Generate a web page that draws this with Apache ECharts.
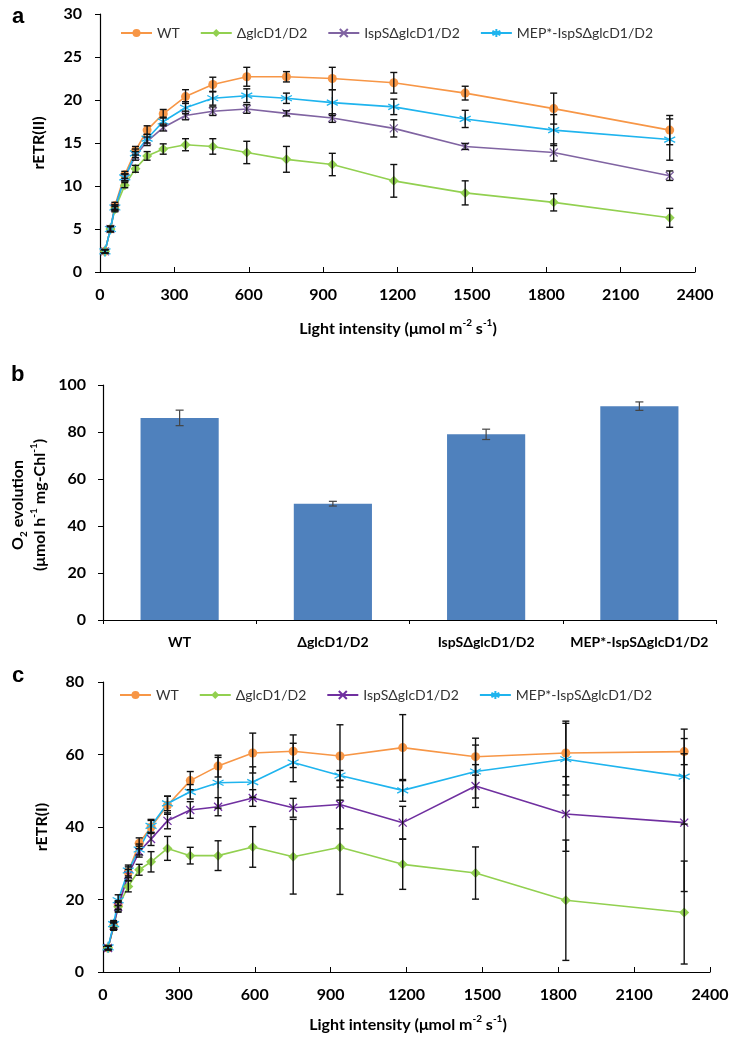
<!DOCTYPE html>
<html>
<head>
<meta charset="utf-8">
<script src="https://cdn.jsdelivr.net/npm/echarts@6/dist/echarts.min.js"></script>
<style>
html,body{margin:0;padding:0;background:#fff;}
#chart{width:734px;height:1043px;}
</style>
</head>
<body>
<div id="chart"></div>
<script>
// ---------- DATA ----------
const lightX = [20, 42, 60, 100, 143, 190, 255, 345, 455, 592, 752, 937, 1185, 1473, 1830, 2298];
const seriesNames = ['WT', 'ΔglcD1/D2', 'IspSΔglcD1/D2', 'MEP*-IspSΔglcD1/D2'];

// panel a: rETR(II)
const aWT     = [2.4, 5.0, 7.7, 11.3, 14.1, 16.5, 18.4, 20.4, 21.8, 22.7, 22.7, 22.5, 22.0, 20.8, 19.0, 16.5];
const aWTErr  = [0.2, 0.3, 0.4, 0.4, 0.5, 0.5, 0.5, 0.8, 0.85, 1.1, 0.6, 1.3, 1.2, 0.8, 1.8, 1.7];
const aDel    = [2.4, 5.0, 7.3, 10.1, 12.0, 13.5, 14.3, 14.8, 14.6, 13.9, 13.1, 12.5, 10.6, 9.2, 8.1, 6.3];
const aDelErr = [0.2, 0.3, 0.3, 0.3, 0.4, 0.5, 0.6, 0.7, 0.9, 1.3, 1.5, 1.3, 1.9, 1.4, 1.0, 1.1];
const aIsp    = [2.4, 5.0, 7.5, 11.0, 13.5, 15.2, 16.8, 18.2, 18.7, 18.95, 18.45, 17.9, 16.7, 14.6, 13.9, 11.2];
const aIspErr = [0.2, 0.3, 0.3, 0.4, 0.5, 0.5, 0.4, 0.5, 0.5, 0.5, 0.3, 0.5, 1.0, 0.35, 1.0, 0.55];
const aMep    = [2.4, 5.0, 7.5, 11.0, 13.8, 15.5, 17.5, 19.1, 20.2, 20.5, 20.2, 19.7, 19.2, 17.8, 16.5, 15.4];
const aMepErr = [0.2, 0.3, 0.3, 0.4, 0.5, 0.5, 0.5, 0.7, 0.8, 0.8, 0.6, 1.5, 0.9, 1.0, 1.8, 2.4];

// panel b: O2 evolution
const bCats = ['WT', 'ΔglcD1/D2', 'IspSΔglcD1/D2', 'MEP*-IspSΔglcD1/D2'];
const bVals = [86, 49.5, 79, 91];
const bErr  = [3.3, 1.0, 2.2, 1.8];

// panel c: rETR(I)
const cWT     = [6.6, 12.8, 18.5, 27.5, 35.5, 40.0, 46.0, 52.8, 56.8, 60.4, 60.9, 59.6, 61.9, 59.4, 60.4, 60.8];
const cWTErr  = [0.5, 1, 1.2, 1.5, 1.5, 1.8, 2.5, 2.5, 3.0, 5.5, 4.5, 8.6, 9.1, 5.1, 8.8, 3.6];
const cDel    = [6.6, 12.5, 18.0, 23.6, 28.2, 30.4, 34.1, 32.1, 32.1, 34.5, 31.8, 34.4, 29.7, 27.3, 19.8, 16.4];
const cDelErr = [0.5, 1, 1.2, 1.5, 1.5, 2.8, 3.3, 2.3, 4.1, 5.6, 10.3, 13.0, 6.9, 7.2, 16.6, 14.2];
const cIsp    = [6.6, 12.8, 18.0, 26.8, 33.2, 36.7, 41.7, 44.7, 45.6, 48.0, 45.3, 46.2, 41.2, 51.3, 43.6, 41.2];
const cIspErr = [0.5, 1, 1.5, 1.5, 1.5, 1.8, 2.2, 2.3, 2.5, 2.3, 2.6, 6.7, 4.5, 5.9, 10.3, 19.0];
const cMep    = [6.8, 13.2, 19.8, 28.0, 33.8, 40.3, 46.5, 49.7, 52.2, 52.4, 57.8, 54.2, 50.1, 55.3, 58.7, 53.9];
const cMepErr = [0.5, 1, 1.5, 1.5, 1.5, 1.8, 2.0, 2.0, 7.0, 4.2, 5.3, 1.4, 3.0, 7.3, 9.9, 13.1];

const aTicks = [0, 5, 10, 15, 20, 25, 30];
const bTicks = [0, 20, 40, 60, 80, 100];
const cTicks = [0, 20, 40, 60, 80];
const xTicks = [0, 300, 600, 900, 1200, 1500, 1800, 2100, 2400];

// ---------- STYLE ----------
const FONT = 'Lato';
const colors = {
  a: ['#F79646', '#92D050', '#8064A2', '#1FB4EE'],
  c: ['#F79646', '#92D050', '#7030A0', '#1FB4EE']
};
const SYM_X = 'path://M0,0L10,10M10,0L0,10';
const SYM_AST = 'path://M5,0L5,10M0.7,2.5L9.3,7.5M9.3,2.5L0.7,7.5';
const symbols = ['circle', 'diamond', SYM_X, SYM_AST];
const symSizes = [9, 10, 8, 11];

function pairs(xs, ys) { return xs.map((x, i) => [x, ys[i]]); }
function triples(xs, ys, es) { return xs.map((x, i) => [x, ys[i], es[i]]); }

function errRender(color, lw, cap) {
  return function (params, api) {
    const x = api.value(0), y = api.value(1), e = api.value(2);
    const t = api.coord([x, y + e]);
    const b = api.coord([x, y - e]);
    const st = { stroke: color, lineWidth: lw };
    return {
      type: 'group',
      children: [
        { type: 'line', shape: { x1: t[0], y1: t[1], x2: b[0], y2: b[1] }, style: st },
        { type: 'line', shape: { x1: t[0] - cap, y1: t[1], x2: t[0] + cap, y2: t[1] }, style: st },
        { type: 'line', shape: { x1: b[0] - cap, y1: b[1], x2: b[0] + cap, y2: b[1] }, style: st }
      ]
    };
  };
}

const axisLineStyle = { show: true, lineStyle: { color: '#000', width: 1.2 } };
const tickLabel = { color: '#000', fontFamily: FONT, fontWeight: 'bold', fontSize: 16, formatter: v => String(v) };

function lineSeries(panel, idx, ys, gridIdx, suffix) {
  const col = colors[panel][idx];
  const isPath = idx >= 2;
  return {
    name: seriesNames[idx] + suffix,
    type: 'line',
    xAxisIndex: gridIdx, yAxisIndex: gridIdx,
    data: pairs(lightX, ys),
    symbol: symbols[idx],
    symbolSize: symSizes[idx],
    showSymbol: true,
    lineStyle: { color: col, width: 1.6 },
    itemStyle: isPath ? { color: col, borderColor: col, borderWidth: 1.3 } : { color: col, borderWidth: 0 },
    z: 3,
    animation: false
  };
}
function errSeries(ys, es, gridIdx, color, lw, cap) {
  return {
    type: 'custom',
    xAxisIndex: gridIdx, yAxisIndex: gridIdx,
    data: triples(lightX, ys, es),
    encode: { x: 0, y: 1 },
    renderItem: errRender(color, lw, cap),
    z: 4, silent: true, animation: false
  };
}

const legendBase = {
  itemWidth: 31, itemHeight: 10, itemGap: 20,
  textStyle: { color: '#333', fontFamily: FONT, fontSize: 14 },
  selectedMode: false,
  formatter: n => n.trim()
};

const chart = echarts.init(document.getElementById('chart'), null, { renderer: 'canvas' });

const supStyle = { fontFamily: FONT, fontWeight: 'bold', fontSize: 10, verticalAlign: 'top', lineHeight: 22, fill: '#000' };
const baseStyle = { fontFamily: FONT, fontWeight: 'bold', fontSize: 16, lineHeight: 22, fill: '#000' };

const option = {
  backgroundColor: '#fff',
  animation: false,
  grid: [
    { left: 100, top: 14, width: 595, height: 258 },
    { left: 103, top: 385, width: 613, height: 235 },
    { left: 103, top: 682, width: 607, height: 290 }
  ],
  legend: [
    Object.assign({}, legendBase, { left: 115, top: 21, data: seriesNames }),
    Object.assign({}, legendBase, { left: 114, top: 683, data: seriesNames.map(n => n + ' ') })
  ],
  xAxis: [
    { gridIndex: 0, type: 'value', min: 0, max: 2400, interval: 300,
      axisLine: axisLineStyle, axisTick: { show: true, inside: true, length: 5, lineStyle: { color: '#000' } },
      axisLabel: Object.assign({ margin: 15 }, tickLabel), splitLine: { show: false } },
    { gridIndex: 1, type: 'category', data: bCats,
      axisLine: axisLineStyle, axisTick: { show: true, inside: false, length: 4, alignWithLabel: false, lineStyle: { color: '#000' } },
      axisLabel: { color: '#000', fontFamily: FONT, fontWeight: 'bold', fontSize: 14, margin: 15, interval: 0 },
      splitLine: { show: false } },
    { gridIndex: 2, type: 'value', min: 0, max: 2400, interval: 300,
      axisLine: axisLineStyle, axisTick: { show: true, inside: true, length: 5, lineStyle: { color: '#000' } },
      axisLabel: Object.assign({ margin: 15 }, tickLabel), splitLine: { show: false } }
  ],
  yAxis: [
    { gridIndex: 0, type: 'value', min: aTicks[0], max: aTicks[aTicks.length - 1], interval: 5,
      axisLine: axisLineStyle, axisTick: { show: true, length: 5, lineStyle: { color: '#000' } },
      axisLabel: Object.assign({ margin: 18 }, tickLabel), splitLine: { show: false } },
    { gridIndex: 1, type: 'value', min: bTicks[0], max: bTicks[bTicks.length - 1], interval: 20,
      axisLine: axisLineStyle, axisTick: { show: true, length: 5, lineStyle: { color: '#000' } },
      axisLabel: Object.assign({ margin: 17 }, tickLabel), splitLine: { show: false } },
    { gridIndex: 2, type: 'value', min: cTicks[0], max: cTicks[cTicks.length - 1], interval: 20,
      axisLine: axisLineStyle, axisTick: { show: true, length: 5, lineStyle: { color: '#000' } },
      axisLabel: Object.assign({ margin: 19 }, tickLabel), splitLine: { show: false } }
  ],
  series: [
    // panel a
    lineSeries('a', 0, aWT, 0, ''),
    lineSeries('a', 1, aDel, 0, ''),
    lineSeries('a', 2, aIsp, 0, ''),
    lineSeries('a', 3, aMep, 0, ''),
    errSeries(aWT, aWTErr, 0, '#111', 1.4, 3.5),
    errSeries(aDel, aDelErr, 0, '#111', 1.4, 3.5),
    errSeries(aIsp, aIspErr, 0, '#111', 1.4, 3.5),
    errSeries(aMep, aMepErr, 0, '#111', 1.4, 3.5),
    // panel b
    { type: 'bar', xAxisIndex: 1, yAxisIndex: 1, data: bVals, barWidth: '51%',
      itemStyle: { color: '#4F81BD' }, animation: false, z: 2 },
    { type: 'custom', xAxisIndex: 1, yAxisIndex: 1,
      data: bVals.map((v, i) => [i, v, bErr[i]]), encode: { x: 0, y: 1 },
      renderItem: errRender('#444', 1.2, 4), z: 4, silent: true, animation: false },
    // panel c
    lineSeries('c', 0, cWT, 2, ' '),
    lineSeries('c', 1, cDel, 2, ' '),
    lineSeries('c', 2, cIsp, 2, ' '),
    lineSeries('c', 3, cMep, 2, ' '),
    errSeries(cWT, cWTErr, 2, '#111', 1.4, 3.5),
    errSeries(cDel, cDelErr, 2, '#111', 1.4, 3.5),
    errSeries(cIsp, cIspErr, 2, '#111', 1.4, 3.5),
    errSeries(cMep, cMepErr, 2, '#111', 1.4, 3.5)
  ],
  graphic: [
    { type: 'text', left: 12, top: 6, style: { text: 'a', font: 'bold 22px "Liberation Sans"', fill: '#000' } },
    { type: 'text', left: 11, top: 364, style: { text: 'b', font: 'bold 22px "Liberation Sans"', fill: '#000' } },
    { type: 'text', left: 12, top: 665, style: { text: 'c', font: 'bold 22px "Liberation Sans"', fill: '#000' } },
    { type: 'text', x: 39, y: 143, rotation: Math.PI / 2,
      style: { text: 'rETR(II)', fill: '#000', font: 'bold 16px ' + FONT, align: 'center', verticalAlign: 'middle' } },
    { type: 'text', x: 42, y: 827, rotation: Math.PI / 2,
      style: { text: 'rETR(I)', fill: '#000', font: 'bold 16px ' + FONT, align: 'center', verticalAlign: 'middle' } },
    { type: 'text', x: 29, y: 505, rotation: Math.PI / 2,
      style: { text: '{b|O}{s|2}{b| evolution}\n{b|(μmol h}{u|-1}{b| mg-Chl}{u|-1}{b|)}',
        align: 'center', verticalAlign: 'middle',
        rich: { b: baseStyle, u: supStyle,
          s: { fontFamily: FONT, fontWeight: 'bold', fontSize: 10, verticalAlign: 'bottom', lineHeight: 22, fill: '#000' } } } },
    { type: 'text', x: 398, y: 329,
      style: { text: '{b|Light intensity (μmol m}{u|-2}{b| s}{u|-1}{b|)}', align: 'center', verticalAlign: 'middle',
        rich: { b: baseStyle, u: supStyle } } },
    { type: 'text', x: 408, y: 1025,
      style: { text: '{b|Light intensity (μmol m}{u|-2}{b| s}{u|-1}{b|)}', align: 'center', verticalAlign: 'middle',
        rich: { b: baseStyle, u: supStyle } } }
  ]
};
chart.setOption(option);
</script>
</body>
</html>
